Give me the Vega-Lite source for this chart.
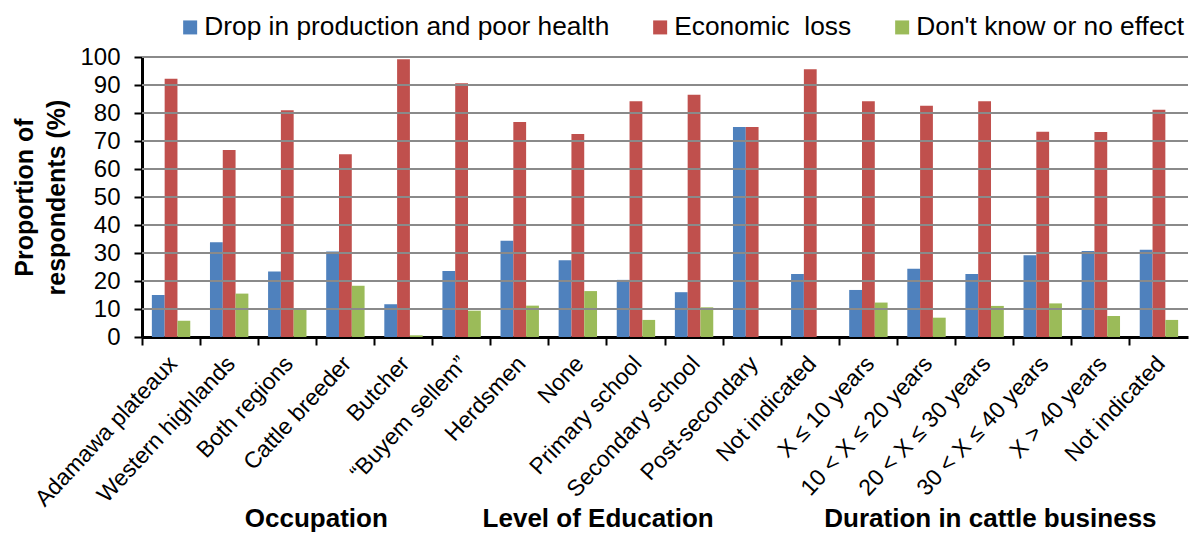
{
  "$schema": "https://vega.github.io/schema/vega-lite/v6.json",
  "width": 1046,
  "height": 280,
  "autosize": {"type": "none"},
  "padding": {"left": 142, "top": 57, "right": 2, "bottom": 198},
  "background": "white",
  "config": {
    "view": {"stroke": null},
    "font": "Liberation Sans",
    "axis": {"labelFont": "Liberation Sans", "titleFont": "Liberation Sans", "labelColor": "black", "titleColor": "black"}
  },
  "resolve": {"scale": {"y": "independent"}, "axis": {"y": "independent"}},
  "datasets": {
    "gridvals": [{"v": 10}, {"v": 20}, {"v": 30}, {"v": 40}, {"v": 50}, {"v": 60}, {"v": 70}, {"v": 80}, {"v": 90}, {"v": 100}],
    "bars": [
      {"cat": "Adamawa plateaux", "series": "Drop in production and poor health", "value": 15},
      {"cat": "Adamawa plateaux", "series": "Economic \u00a0loss", "value": 92.2},
      {"cat": "Adamawa plateaux", "series": "Don't know or no effect", "value": 5.8},
      {"cat": "Western highlands", "series": "Drop in production and poor health", "value": 33.8},
      {"cat": "Western highlands", "series": "Economic \u00a0loss", "value": 66.8},
      {"cat": "Western highlands", "series": "Don't know or no effect", "value": 15.5},
      {"cat": "Both regions", "series": "Drop in production and poor health", "value": 23.4},
      {"cat": "Both regions", "series": "Economic \u00a0loss", "value": 81},
      {"cat": "Both regions", "series": "Don't know or no effect", "value": 10.1},
      {"cat": "Cattle breeder", "series": "Drop in production and poor health", "value": 30.5},
      {"cat": "Cattle breeder", "series": "Economic \u00a0loss", "value": 65.3},
      {"cat": "Cattle breeder", "series": "Don't know or no effect", "value": 18.3},
      {"cat": "Butcher", "series": "Drop in production and poor health", "value": 11.7},
      {"cat": "Butcher", "series": "Economic \u00a0loss", "value": 99.2},
      {"cat": "Butcher", "series": "Don't know or no effect", "value": 0.6},
      {"cat": "“Buyem sellem”", "series": "Drop in production and poor health", "value": 23.6},
      {"cat": "“Buyem sellem”", "series": "Economic \u00a0loss", "value": 90.6},
      {"cat": "“Buyem sellem”", "series": "Don't know or no effect", "value": 9.4},
      {"cat": "Herdsmen", "series": "Drop in production and poor health", "value": 34.4},
      {"cat": "Herdsmen", "series": "Economic \u00a0loss", "value": 76.8},
      {"cat": "Herdsmen", "series": "Don't know or no effect", "value": 11.2},
      {"cat": "None", "series": "Drop in production and poor health", "value": 27.4},
      {"cat": "None", "series": "Economic \u00a0loss", "value": 72.5},
      {"cat": "None", "series": "Don't know or no effect", "value": 16.4},
      {"cat": "Primary school", "series": "Drop in production and poor health", "value": 20.4},
      {"cat": "Primary school", "series": "Economic \u00a0loss", "value": 84.2},
      {"cat": "Primary school", "series": "Don't know or no effect", "value": 6.1},
      {"cat": "Secondary school", "series": "Drop in production and poor health", "value": 16},
      {"cat": "Secondary school", "series": "Economic \u00a0loss", "value": 86.5},
      {"cat": "Secondary school", "series": "Don't know or no effect", "value": 10.6},
      {"cat": "Post-secondary", "series": "Drop in production and poor health", "value": 75},
      {"cat": "Post-secondary", "series": "Economic \u00a0loss", "value": 75},
      {"cat": "Post-secondary", "series": "Don't know or no effect", "value": 0},
      {"cat": "Not indicated", "series": "Drop in production and poor health", "value": 22.5},
      {"cat": "Not indicated", "series": "Economic \u00a0loss", "value": 95.6},
      {"cat": "Not indicated", "series": "Don't know or no effect", "value": 0},
      {"cat": "X ≤ 10 years", "series": "Drop in production and poor health", "value": 16.8},
      {"cat": "X ≤ 10 years", "series": "Economic \u00a0loss", "value": 84.2},
      {"cat": "X ≤ 10 years", "series": "Don't know or no effect", "value": 12.3},
      {"cat": "10 < X ≤ 20 years", "series": "Drop in production and poor health", "value": 24.4},
      {"cat": "10 < X ≤ 20 years", "series": "Economic \u00a0loss", "value": 82.6},
      {"cat": "10 < X ≤ 20 years", "series": "Don't know or no effect", "value": 6.9},
      {"cat": "20 < X ≤ 30 years", "series": "Drop in production and poor health", "value": 22.5},
      {"cat": "20 < X ≤ 30 years", "series": "Economic \u00a0loss", "value": 84.2},
      {"cat": "20 < X ≤ 30 years", "series": "Don't know or no effect", "value": 11.1},
      {"cat": "30 < X ≤ 40 years", "series": "Drop in production and poor health", "value": 29.2},
      {"cat": "30 < X ≤ 40 years", "series": "Economic \u00a0loss", "value": 73.3},
      {"cat": "30 < X ≤ 40 years", "series": "Don't know or no effect", "value": 12},
      {"cat": "X > 40 years", "series": "Drop in production and poor health", "value": 30.7},
      {"cat": "X > 40 years", "series": "Economic \u00a0loss", "value": 73.2},
      {"cat": "X > 40 years", "series": "Don't know or no effect", "value": 7.5},
      {"cat": "Not indicated ", "series": "Drop in production and poor health", "value": 31.2},
      {"cat": "Not indicated ", "series": "Economic \u00a0loss", "value": 81.2},
      {"cat": "Not indicated ", "series": "Don't know or no effect", "value": 6.1}
    ],
    "groups": [
      {"cat": "Cattle breeder", "group": "Occupation"},
      {"cat": "None", "group": "Level of Education"},
      {"cat": "20 < X ≤ 30 years", "group": "Duration in cattle business"}
    ]
  },
  "layer": [
    {
      "data": {"name": "bars"},
      "mark": {"type": "bar"},
      "encoding": {
        "x": {
          "field": "cat", "type": "nominal",
          "scale": {
            "domain": ["Adamawa plateaux", "Western highlands", "Both regions", "Cattle breeder", "Butcher", "“Buyem sellem”", "Herdsmen", "None", "Primary school", "Secondary school", "Post-secondary", "Not indicated", "X ≤ 10 years", "10 < X ≤ 20 years", "20 < X ≤ 30 years", "30 < X ≤ 40 years", "X > 40 years", "Not indicated "],
            "paddingInner": 0, "paddingOuter": 0
          },
          "axis": {
            "title": null,
            "labelAngle": -47,
            "labelAlign": "right",
            "labelBaseline": "top",
            "labelFontSize": 23,
            "labelPadding": 7,
            "labelOffset": -6,
            "labelLimit": 400,
            "bandPosition": 0,
            "ticks": true,
            "tickColor": "black",
            "tickWidth": 2,
            "tickSize": 8,
            "domainColor": "black",
            "domainWidth": 3,
            "grid": false
          }
        },
        "xOffset": {
          "field": "series", "type": "nominal",
          "sort": ["Drop in production and poor health", "Economic \u00a0loss", "Don't know or no effect"],
          "scale": {"paddingInner": 0, "paddingOuter": 0.77}
        },
        "y": {
          "field": "value", "type": "quantitative",
          "scale": {"domain": [0, 100], "nice": false},
          "axis": {
            "title": ["Proportion of", "respondents (%)"],
            "titleFontSize": 25,
            "titleFontWeight": "bold",
            "titlePadding": 10,
            "titleLineHeight": 32,
            "values": [0, 10, 20, 30, 40, 50, 60, 70, 80, 90, 100],
            "labelFontSize": 24,
            "labelPadding": 14,
            "labelOverlap": false,
            "grid": false,
            "domainColor": "black",
            "domainWidth": 3,
            "tickColor": "black",
            "tickWidth": 2,
            "tickSize": 8
          }
        },
        "color": {
          "field": "series", "type": "nominal",
          "sort": ["Drop in production and poor health", "Economic \u00a0loss", "Don't know or no effect"],
          "scale": {"range": ["#4F81BD", "#C0504D", "#9BBB59"]},
          "legend": {
            "title": null,
            "orient": "none",
            "direction": "horizontal",
            "legendX": 35,
            "legendY": -43,
            "symbolType": "square",
            "symbolSize": 196,
            "symbolStrokeWidth": 0,
            "labelFontSize": 26.3,
            "labelFont": "Liberation Sans",
            "labelColor": "black",
            "labelOffset": 1,
            "columnPadding": 37,
            "labelLimit": 600
          }
        }
      }
    },
    {
      "data": {"name": "gridvals"},
      "mark": {"type": "rule", "stroke": "#8a8a8a", "strokeWidth": 2},
      "encoding": {
        "y": {"field": "v", "type": "quantitative", "scale": {"domain": [0, 100], "nice": false}, "axis": null}
      }
    },
    {
      "data": {"name": "groups"},
      "transform": [{"filter": "datum.group === 'Occupation'"}],
      "mark": {"type": "text", "fontSize": 26, "fontWeight": "bold", "font": "Liberation Sans", "color": "black", "baseline": "middle", "align": "center"},
      "encoding": {
        "x": {"field": "cat", "type": "nominal", "bandPosition": 0},
        "y": {"datum": -65, "scale": {"domain": [0, 100], "nice": false}, "axis": null},
        "text": {"field": "group"}
      }
    },
    {
      "data": {"name": "groups"},
      "transform": [{"filter": "datum.group === 'Level of Education'"}],
      "mark": {"type": "text", "fontSize": 26, "fontWeight": "bold", "font": "Liberation Sans", "color": "black", "baseline": "middle", "align": "center"},
      "encoding": {
        "x": {"field": "cat", "type": "nominal", "bandPosition": 0.85},
        "y": {"datum": -65, "scale": {"domain": [0, 100], "nice": false}, "axis": null},
        "text": {"field": "group"}
      }
    },
    {
      "data": {"name": "groups"},
      "transform": [{"filter": "datum.group === 'Duration in cattle business'"}],
      "mark": {"type": "text", "fontSize": 26, "fontWeight": "bold", "font": "Liberation Sans", "color": "black", "baseline": "middle", "align": "center"},
      "encoding": {
        "x": {"field": "cat", "type": "nominal", "bandPosition": 0.6},
        "y": {"datum": -65, "scale": {"domain": [0, 100], "nice": false}, "axis": null},
        "text": {"field": "group"}
      }
    }
  ]
}
